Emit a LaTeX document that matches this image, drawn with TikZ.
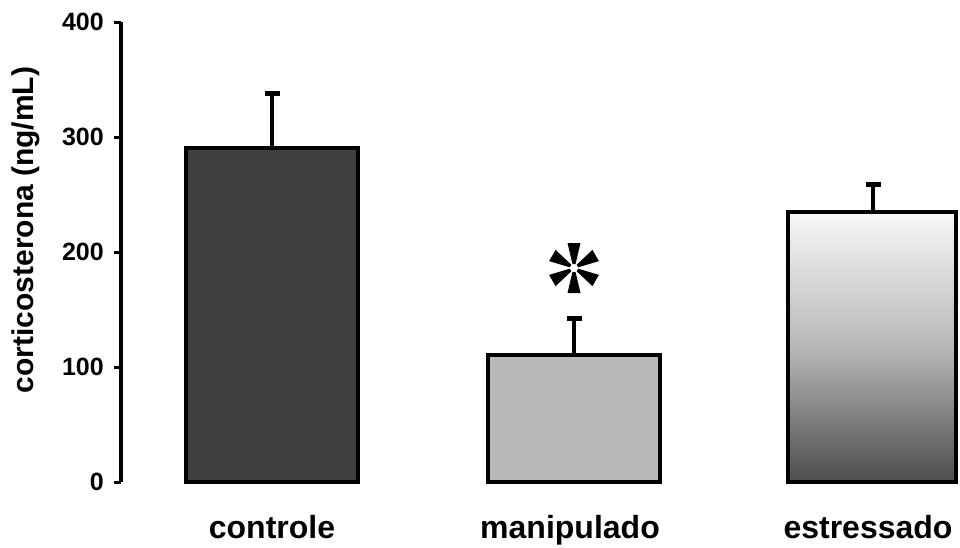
\documentclass[tikz,border=0pt]{standalone}
\usepackage{fontspec}
\setmainfont{Liberation Sans}
\begin{document}
\begin{tikzpicture}[x=1pt,y=-1pt,
  barstyle/.style={draw=black,line width=4.5pt,line join=miter},
  errstyle/.style={line width=4pt},
  capstyle/.style={line width=5pt},
  axisstyle/.style={line width=3.5pt},
  tickstyle/.style={line width=3pt},
  ticklab/.style={anchor=east,inner sep=0pt,font=\fontsize{25}{27}\selectfont\bfseries},
  catlab/.style={anchor=base,inner sep=0pt,font=\fontsize{32}{34}\selectfont\bfseries},
  spoke/.style={fill=black}]
\useasboundingbox (0,0) rectangle (960,547);
\fill[white] (0,0) rectangle (960,547);

% y axis
\draw[axisstyle] (121,22) -- (121,482);
\foreach \yy/\lab/\nm in {22/400/t4,137/300/t3,252/200/t2,367/100/t1,482/0/t0}{
  \draw[tickstyle] (114,\yy) -- (121,\yy);
  \node[ticklab] (\nm) at (104,\yy) {\lab};
}
\node[rotate=90,inner sep=0pt,font=\fontsize{30}{32}\selectfont\bfseries] (ytitle) at (26,230) {corticosterona (ng/mL)};

% bars
\draw[barstyle,fill=black!75] (186,482) rectangle (358,148);
\draw[barstyle,fill=black!28] (488,482) rectangle (660,355);
\shade[top color=black!3,bottom color=black!70,middle color=black!28] (788,482) rectangle (956,212);
\draw[barstyle] (788,482) rectangle (956,212);

% error bars
\draw[errstyle] (272,148) -- (272,93);
\draw[capstyle] (265,93) -- (280,93);
\draw[errstyle] (574,355) -- (574,318);
\draw[capstyle] (567,318) -- (582,318);
\draw[errstyle] (873,212) -- (873,184);
\draw[capstyle] (866,184) -- (881,184);

% asterisk
\foreach \a in {90,30,-30,-90,-150,150}{
  \begin{scope}[shift={(574,268)},rotate=\a]
    \fill[spoke] (4,-1.5) -- (25,-6.5) -- (25,6.5) -- (4,1.5) -- cycle;
  \end{scope}
}

% category labels
\node[catlab] (lc) at (272,538) {controle};
\node[catlab] (lm) at (570,538) {manipulado};
\node[catlab] (le) at (868,538) {estressado};
\end{tikzpicture}
\end{document}
